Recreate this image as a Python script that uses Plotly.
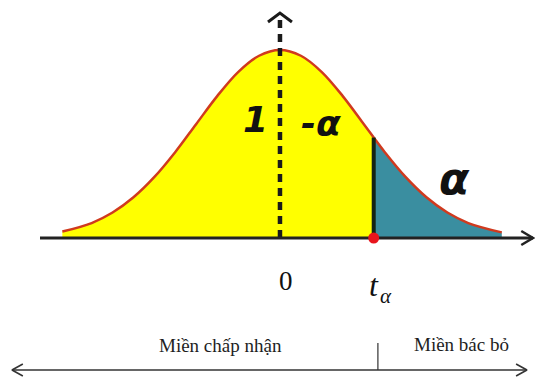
import plotly.graph_objects as go

# Curve values (density units, x in standard units)
curve_x = [-2.60, -2.25, -2.0, -1.75, -1.5, -1.25, -1.0, -0.75, -0.5, -0.25, 0.0,
           0.25, 0.5, 0.75, 1.0, 1.12, 1.25, 1.5, 1.75, 2.0, 2.25, 2.65]
curve_y = [0.0136, 0.0317, 0.0540, 0.0863, 0.1295, 0.1826, 0.2420, 0.3011, 0.3521, 0.3867, 0.3989,
           0.3867, 0.3521, 0.3011, 0.2420, 0.2131, 0.1826, 0.1295, 0.0863, 0.0540, 0.0317, 0.0119]
t_alpha = 1.12
t_alpha_height = 0.2131
region_labels = ["Miền chấp nhận", "Miền bác bỏ"]
area_labels = ["1", "-α", "α"]
tick_labels = ["0", "t", "α"]

yellow_x = [x for x in curve_x if x <= t_alpha]
yellow_y = [y for x, y in zip(curve_x, curve_y) if x <= t_alpha]
teal_x = [x for x in curve_x if x >= t_alpha]
teal_y = [y for x, y in zip(curve_x, curve_y) if x >= t_alpha]

X_MIN, X_MAX = -3.345, 3.047
Y_MIN, Y_MAX = -0.2992, 0.505
AX_L, AX_R = -2.867, 3.023
TOP = 0.4774
BOT_Y = -0.280
BOT_L, BOT_R = -3.202, 2.951
SPLIT = 1.17

fig = go.Figure()
fig.add_trace(go.Scatter(x=yellow_x, y=yellow_y, mode="lines", line=dict(width=0, shape="spline"),
                         fill="tozeroy", fillcolor="#ffff00", hoverinfo="skip"))
fig.add_trace(go.Scatter(x=teal_x, y=teal_y, mode="lines", line=dict(width=0, shape="spline"),
                         fill="tozeroy", fillcolor="#3a8ea0", hoverinfo="skip"))
fig.add_trace(go.Scatter(x=curve_x, y=curve_y, mode="lines",
                         line=dict(color="#d03a1e", width=2.5, shape="spline")))
# cut line at t_alpha
fig.add_trace(go.Scatter(x=[t_alpha, t_alpha], y=[0, t_alpha_height], mode="lines",
                         line=dict(color="#142414", width=4)))
# dashed vertical axis
fig.add_trace(go.Scatter(x=[0, 0], y=[0, TOP], mode="lines",
                         line=dict(color="#1a1a1a", width=4.5, dash="8px,6px")))
fig.add_trace(go.Scatter(x=[-0.143, 0, 0.143], y=[TOP - 0.019, TOP, TOP - 0.019], mode="lines",
                         line=dict(color="#1a1a1a", width=3)))
# horizontal axis
fig.add_trace(go.Scatter(x=[AX_L, AX_R], y=[0, 0], mode="lines",
                         line=dict(color="#222222", width=3)))
fig.add_trace(go.Scatter(x=[AX_R - 0.14, AX_R, AX_R - 0.14], y=[0.0149, 0, -0.0149], mode="lines",
                         line=dict(color="#222222", width=2.5)))
# red point
fig.add_trace(go.Scatter(x=[t_alpha], y=[0], mode="markers",
                         marker=dict(color="#e8141c", size=11)))
# bottom double arrow
fig.add_trace(go.Scatter(x=[BOT_L, BOT_R], y=[BOT_Y, BOT_Y], mode="lines",
                         line=dict(color="#333333", width=1.6)))
fig.add_trace(go.Scatter(x=[BOT_R - 0.13, BOT_R, BOT_R - 0.13], y=[BOT_Y + 0.0127, BOT_Y, BOT_Y - 0.0127],
                         mode="lines", line=dict(color="#333333", width=1.6)))
fig.add_trace(go.Scatter(x=[BOT_L + 0.13, BOT_L, BOT_L + 0.13], y=[BOT_Y + 0.0127, BOT_Y, BOT_Y - 0.0127],
                         mode="lines", line=dict(color="#333333", width=1.6)))
fig.add_trace(go.Scatter(x=[SPLIT, SPLIT], y=[-0.2228, BOT_Y], mode="lines",
                         line=dict(color="#333333", width=1.2)))

ann = []
ann.append(dict(x=-0.287, y=0.2525, text="<b><i>" + area_labels[0] + "</i></b>",
                font=dict(family="DejaVu Sans", size=36, color="#111111")))
ann.append(dict(x=0.49, y=0.242, text="<b><i>" + area_labels[1] + "</i></b>",
                font=dict(family="DejaVu Sans", size=36, color="#111111")))
ann.append(dict(x=2.09, y=0.127, text="<b><i>" + area_labels[2] + "</i></b>",
                font=dict(family="DejaVu Sans", size=44, color="#111111")))
ann.append(dict(x=0.07, y=-0.0912, text=tick_labels[0],
                font=dict(family="Liberation Serif", size=27, color="#111111")))
ann.append(dict(x=1.123, y=-0.100, text="<i>" + tick_labels[1] + "</i>",
                font=dict(family="Liberation Serif", size=32, color="#111111")))
ann.append(dict(x=1.27, y=-0.124, text="<i>" + tick_labels[2] + "</i>",
                font=dict(family="Liberation Serif", size=21, color="#111111")))
ann.append(dict(x=-0.705, y=-0.229, text=region_labels[0],
                font=dict(family="Liberation Serif", size=19, color="#1e1e1e")))
ann.append(dict(x=2.163, y=-0.225, text=region_labels[1],
                font=dict(family="Liberation Serif", size=19, color="#1e1e1e")))
for a in ann:
    a.update(xref="x", yref="y", showarrow=False, xanchor="center", yanchor="middle")

fig.update_layout(
    width=535, height=379, margin=dict(l=0, r=0, t=0, b=0),
    paper_bgcolor="white", plot_bgcolor="white", showlegend=False,
    xaxis=dict(range=[X_MIN, X_MAX], visible=False, fixedrange=True),
    yaxis=dict(range=[Y_MIN, Y_MAX], visible=False, fixedrange=True),
    annotations=ann,
)
fig.write_html("out.html", config={"displayModeBar": False, "staticPlot": True},
               post_script="document.body.style.margin='0';document.body.style.overflow='hidden';")
